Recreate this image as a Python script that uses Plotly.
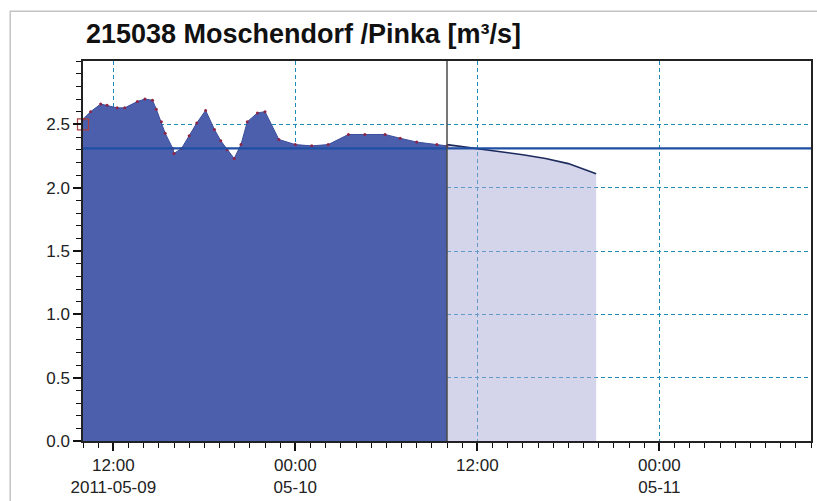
import plotly.graph_objects as go

# ---- data ----
obs_time = ["2011-05-09 10:00", "2011-05-09 10:30", "2011-05-09 11:10", "2011-05-09 11:35",
            "2011-05-09 12:15", "2011-05-09 12:45", "2011-05-09 13:35", "2011-05-09 14:05",
            "2011-05-09 14:35", "2011-05-09 14:50", "2011-05-09 15:10", "2011-05-09 15:25",
            "2011-05-09 15:55", "2011-05-09 16:00", "2011-05-09 16:30", "2011-05-09 17:00",
            "2011-05-09 17:30", "2011-05-09 18:05", "2011-05-09 18:40", "2011-05-09 19:05",
            "2011-05-09 19:30", "2011-05-09 19:58", "2011-05-09 20:25", "2011-05-09 20:50",
            "2011-05-09 21:30", "2011-05-09 22:00", "2011-05-09 22:55", "2011-05-10 00:00",
            "2011-05-10 01:05", "2011-05-10 02:10", "2011-05-10 03:30", "2011-05-10 04:35",
            "2011-05-10 05:55", "2011-05-10 06:55", "2011-05-10 08:00", "2011-05-10 09:20",
            "2011-05-10 10:00"]
obs_value = [2.54, 2.60, 2.66, 2.65, 2.63, 2.63, 2.68, 2.70, 2.69, 2.62, 2.52, 2.43,
             2.31, 2.27, 2.31, 2.41, 2.51, 2.61, 2.46, 2.37, 2.30, 2.23, 2.34, 2.52,
             2.59, 2.60, 2.38, 2.34, 2.33, 2.34, 2.42, 2.42, 2.42, 2.39, 2.36, 2.34, 2.33]

fc_time = ["2011-05-10 10:00", "2011-05-10 12:00", "2011-05-10 13:15", "2011-05-10 15:00",
           "2011-05-10 16:30", "2011-05-10 18:00", "2011-05-10 19:50"]
fc_value = [2.34, 2.31, 2.29, 2.26, 2.23, 2.19, 2.11]

threshold_value = 2.31
now_time = "2011-05-10 10:00"
x_range = ["2011-05-09 10:00", "2011-05-11 10:00"]
y_range = [0, 3.0]

x_tickvals = ["2011-05-09 12:00", "2011-05-10 00:00", "2011-05-10 12:00", "2011-05-11 00:00"]
x_ticktext = ["12:00<br>2011-05-09", "00:00<br>05-10", "12:00", "00:00<br>05-11"]
y_tickvals = [0, 0.5, 1.0, 1.5, 2.0, 2.5]
y_ticktext = ["0.0", "0.5", "1.0", "1.5", "2.0", "2.5"]

title_text = "215038 Moschendorf /Pinka [m³/s]"

# ---- figure ----
fig = go.Figure()

fig.add_trace(go.Scatter(
    x=fc_time, y=fc_value, mode="lines", fill="tozeroy",
    fillcolor="rgba(170,170,215,0.5)",
    line=dict(color="#1c2a5c", width=1.6), hoverinfo="skip", showlegend=False))

fig.add_trace(go.Scatter(
    x=obs_time, y=obs_value, mode="lines+markers", fill="tozeroy",
    fillcolor="#4b5fad", line=dict(color="#3c4f9c", width=1),
    marker=dict(color="#8e2446", size=3), showlegend=False))

fig.add_trace(go.Scatter(
    x=x_range, y=[threshold_value, threshold_value], mode="lines",
    line=dict(color="#1f4fa3", width=2.2), showlegend=False))

fig.add_trace(go.Scatter(
    x=[now_time, now_time], y=y_range, mode="lines",
    line=dict(color="#4a4a4a", width=1.5), showlegend=False))

fig.add_trace(go.Scatter(
    x=[x_range[0]], y=[2.5], mode="markers",
    marker=dict(symbol="square-open", size=11, color="#a84040", line=dict(width=1.2)),
    cliponaxis=False, showlegend=False))

grid_color = "#1e8ab8"
tick_font = dict(family="Liberation Sans, Arial", size=17, color="#222")
fig.update_xaxes(
    type="date", range=x_range, tickmode="array", tickvals=x_tickvals, ticktext=x_ticktext,
    ticks="outside", ticklen=8, tickwidth=1.5, tickcolor="#111",
    showline=True, linecolor="#222", linewidth=1.5, mirror=True,
    showgrid=True, gridcolor=grid_color, griddash="4px,3px", gridwidth=1.3,
    tickfont=tick_font,
    minor=dict(tick0="2011-05-09 10:00", dtick=3600000, ticks="outside", ticklen=5,
               tickcolor="#111", tickwidth=1, showgrid=False),
    zeroline=False)
fig.update_yaxes(
    range=y_range, tickmode="array", tickvals=y_tickvals, ticktext=y_ticktext,
    ticks="outside", ticklen=8, tickwidth=1.5, tickcolor="#111",
    showline=True, linecolor="#222", linewidth=1.5, mirror=True,
    showgrid=True, gridcolor=grid_color, griddash="4px,3px", gridwidth=1.3,
    tickfont=tick_font,
    minor=dict(dtick=0.1, ticks="outside", ticklen=5, tickcolor="#111", tickwidth=1,
               showgrid=False),
    zeroline=False)

fig.add_shape(type="rect", xref="paper", yref="paper",
              x0=(10 - 83) / 730, x1=1.2, y0=-0.5, y1=(442 - 11) / 381,
              line=dict(color="#c4c4c4", width=1.5), fillcolor="rgba(0,0,0,0)", layer="above")

fig.update_layout(
    width=817, height=501,
    margin=dict(l=83, r=4, t=61, b=59),
    paper_bgcolor="white", plot_bgcolor="white",
    title=dict(text="<b>" + title_text + "</b>", x=0.004, xref="paper", xanchor="left",
               y=1 - 34 / 501, yref="container", yanchor="middle",
               font=dict(family="Liberation Sans, Arial", size=27, color="#111")),
)

fig.write_html("out.html", config={"displayModeBar": False},
               post_script="document.body.style.margin='0';document.body.style.overflow='hidden';")
